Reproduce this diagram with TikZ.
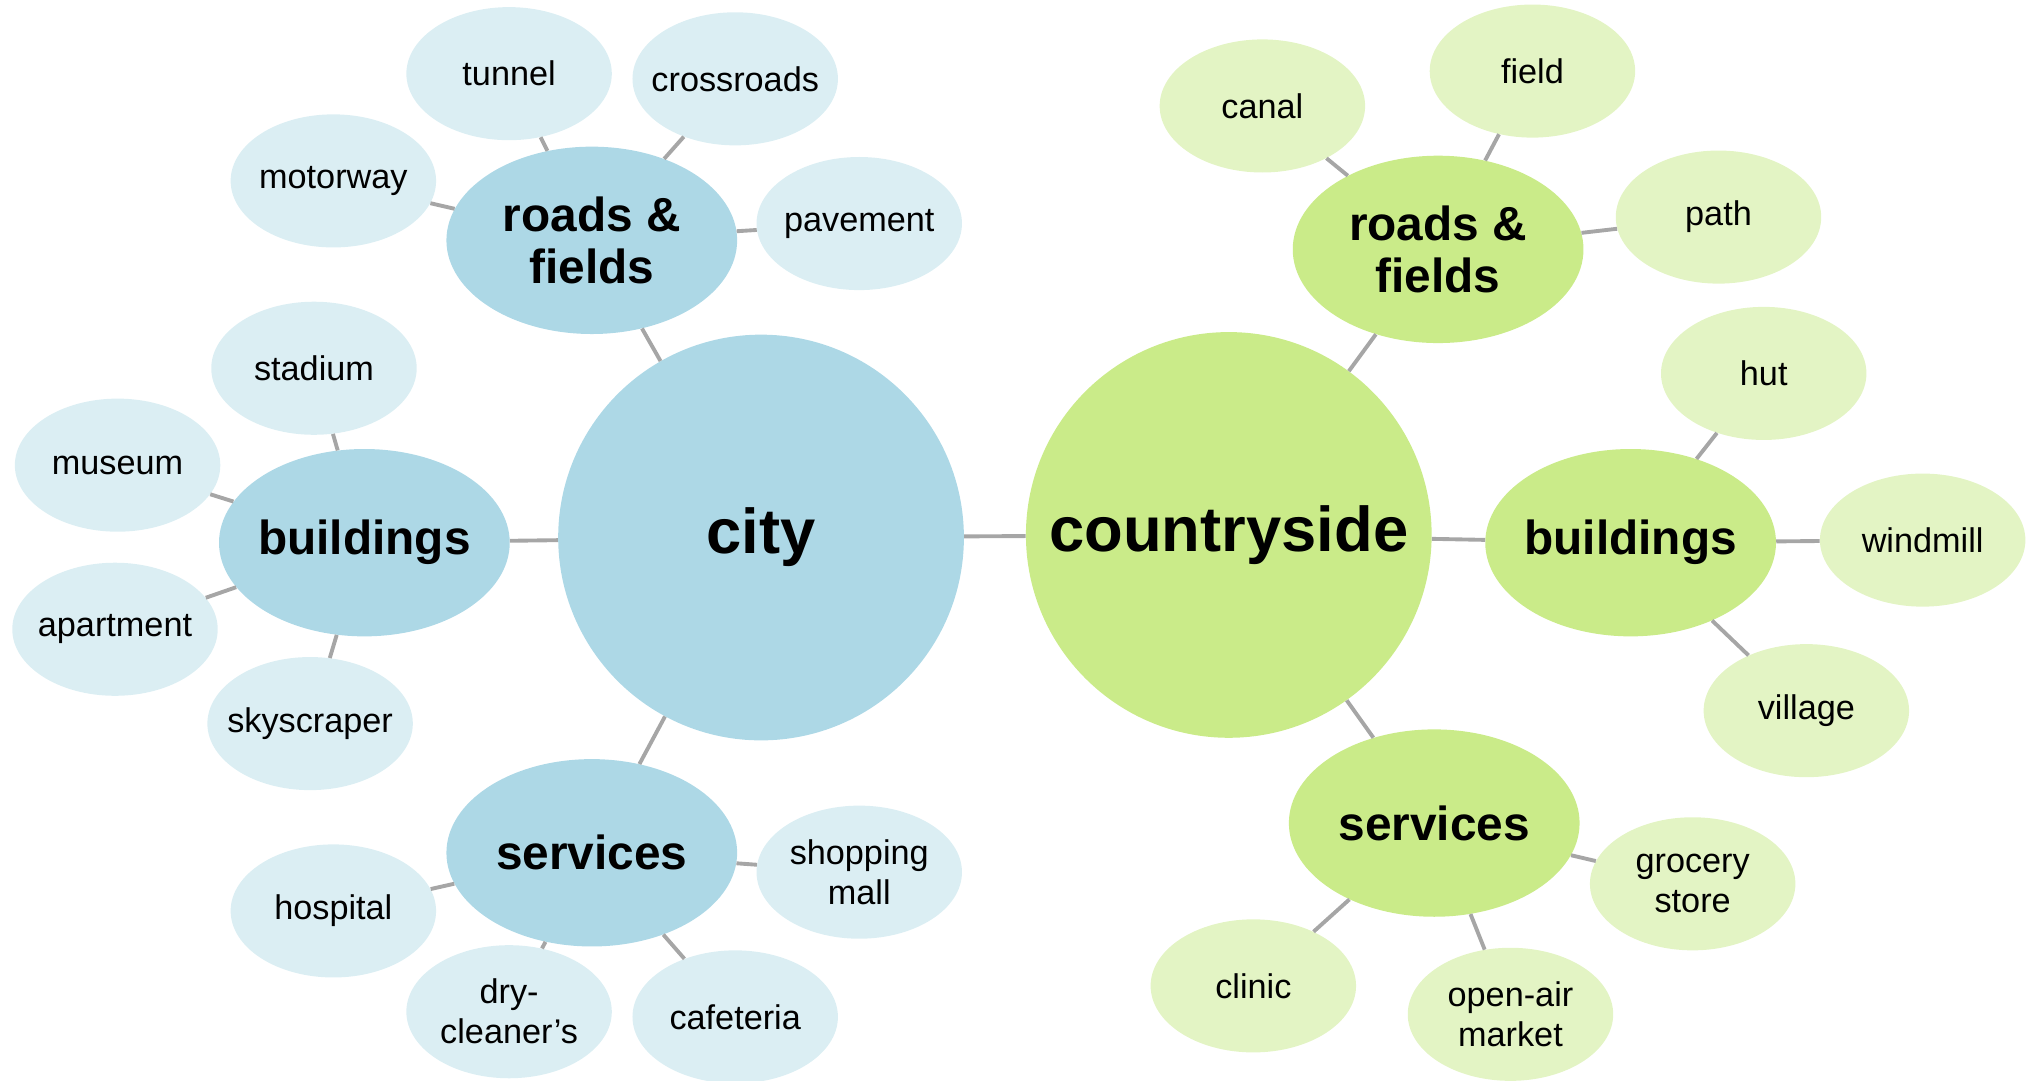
\documentclass[tikz,border=0pt]{standalone}
\usepackage{fontspec}
\setmainfont{Liberation Sans}
\usetikzlibrary{shapes.geometric}
\definecolor{cityhub}{RGB}{173,216,230}
\definecolor{cityleaf}{RGB}{219,238,243}
\definecolor{farmhub}{RGB}{202,235,137}
\definecolor{farmleaf}{RGB}{227,244,196}
\definecolor{linkgray}{RGB}{166,166,166}

\begin{document}
\begin{tikzpicture}[x=1pt,y=-1pt,
  hub/.style={circle,inner sep=-70pt,minimum size=314pt,
    font=\fontsize{49}{55}\selectfont\bfseries},
  topic/.style={ellipse,inner xsep=-45pt,inner ysep=0pt,minimum width=225pt,
    minimum height=145pt,align=center,font=\fontsize{37}{40}\selectfont\bfseries},
  leaf/.style={ellipse,inner xsep=-35pt,inner ysep=0pt,minimum width=159pt,
    minimum height=103pt,align=center,font=\fontsize{26.5}{31}\selectfont},
  link/.style={draw=linkgray,line width=3pt}]
\useasboundingbox (0,0) rectangle (1568,836);

% city side
\node[hub,fill=cityhub] (city) at (589,416) {city};
\node[topic,fill=cityhub] (cRoads) at (458,186) {roads \&\\fields};
\node[topic,fill=cityhub] (cBuild) at (282,420) {buildings};
\node[topic,fill=cityhub] (cServ) at (458,660) {services};
\node[leaf,fill=cityleaf] (tunnel) at (394,57) {tunnel};
\node[leaf,fill=cityleaf] (crossroads) at (569,61) {crossroads};
\node[leaf,fill=cityleaf] (motorway) at (258,140) {motorway};
\node[leaf,fill=cityleaf] (pavement) at (665,173) {pavement};
\node[leaf,fill=cityleaf] (stadium) at (243,285) {stadium};
\node[leaf,fill=cityleaf] (museum) at (91,360) {museum};
\node[leaf,fill=cityleaf] (apartment) at (89,487) {apartment};
\node[leaf,fill=cityleaf] (skyscraper) at (240,560) {skyscraper};
\node[leaf,fill=cityleaf] (hospital) at (258,705) {hospital};
\node[leaf,fill=cityleaf] (drycleaner) at (394,783) {dry-\\cleaner’s};
\node[leaf,fill=cityleaf] (cafeteria) at (569,787) {cafeteria};
\node[leaf,fill=cityleaf] (mall) at (665,675) {shopping\\mall};

% countryside side
\node[hub,fill=farmhub] (country) at (951,414) {countryside};
\node[topic,fill=farmhub] (fRoads) at (1113,193) {roads \&\\fields};
\node[topic,fill=farmhub] (fBuild) at (1262,420) {buildings};
\node[topic,fill=farmhub] (fServ) at (1110,637) {services};
\node[leaf,fill=farmleaf] (canal) at (977,82) {canal};
\node[leaf,fill=farmleaf] (field) at (1186,55) {field};
\node[leaf,fill=farmleaf] (path) at (1330,168) {path};
\node[leaf,fill=farmleaf] (hut) at (1365,289) {hut};
\node[leaf,fill=farmleaf] (windmill) at (1488,418) {windmill};
\node[leaf,fill=farmleaf] (village) at (1398,550) {village};
\node[leaf,fill=farmleaf] (grocery) at (1310,684) {grocery\\store};
\node[leaf,fill=farmleaf] (market) at (1169,785) {open-air\\market};
\node[leaf,fill=farmleaf] (clinic) at (970,763) {clinic};

\path[link] (city) edge (country);
\path[link] (city) edge (cRoads);
\path[link] (city) edge (cBuild);
\path[link] (city) edge (cServ);
\path[link] (cRoads) edge (tunnel);
\path[link] (cRoads) edge (crossroads);
\path[link] (cRoads) edge (motorway);
\path[link] (cRoads) edge (pavement);
\path[link] (cBuild) edge (stadium);
\path[link] (cBuild) edge (museum);
\path[link] (cBuild) edge (apartment);
\path[link] (cBuild) edge (skyscraper);
\path[link] (cServ) edge (hospital);
\path[link] (cServ) edge (drycleaner);
\path[link] (cServ) edge (cafeteria);
\path[link] (cServ) edge (mall);

\path[link] (country) edge (fRoads);
\path[link] (country) edge (fBuild);
\path[link] (country) edge (fServ);
\path[link] (fRoads) edge (canal);
\path[link] (fRoads) edge (field);
\path[link] (fRoads) edge (path);
\path[link] (fBuild) edge (hut);
\path[link] (fBuild) edge (windmill);
\path[link] (fBuild) edge (village);
\path[link] (fServ) edge (grocery);
\path[link] (fServ) edge (market);
\path[link] (fServ) edge (clinic);
\end{tikzpicture}
\end{document}
